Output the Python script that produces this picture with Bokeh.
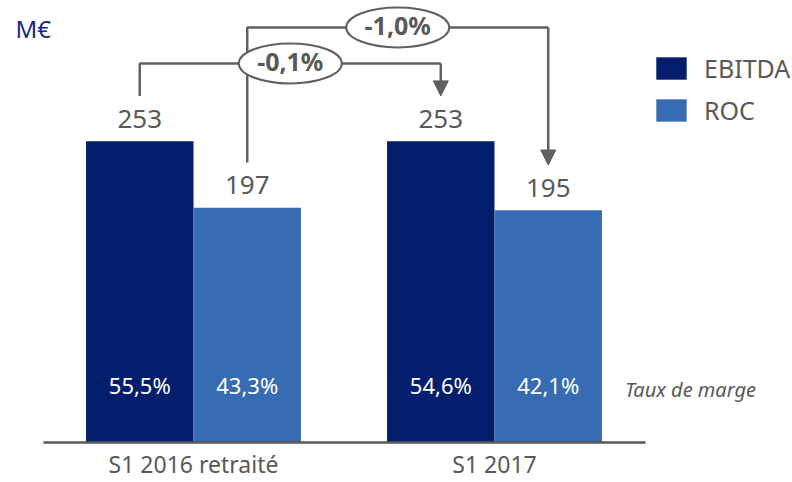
from bokeh.plotting import figure
from bokeh.models import (ColumnDataSource, Range1d, FixedTicker, Arrow, NormalHead,
                          Legend, LegendItem)
from bokeh.core.properties import value
from bokeh.embed import file_html
from bokeh.resources import INLINE

# ---------------- data ----------------
categories = ["S1 2016 retraité", "S1 2017"]
series = ["EBITDA", "ROC"]
ebitda = [253, 253]
roc = [197, 195]
ebitda_margin = ["55,5%", "54,6%"]
roc_margin = ["43,3%", "42,1%"]
change_labels = ["-0,1%", "-1,0%"]      # EBITDA change, ROC change
unit_label = "M€"
margin_caption = "Taux de marge"

# ---------------- style ----------------
C_EBITDA = "#041E6E"
C_ROC = "#376CB3"
FONT = "Noto Sans"
GREY = "#595959"
LINE = "#606060"
BAR_W = 0.357
OFF = BAR_W / 2
ARROW_GAP = 38          # data units between bar top and bracket end
LEVEL1 = max(ebitda) + 65.3
LEVEL2 = max(ebitda) + 95.5
MID = -2                # small baseline correction for "middle" text (px)

xpos = list(range(len(categories)))
xe = [x - OFF for x in xpos]
xr = [x + OFF for x in xpos]

p = figure(width=792, height=482, output_backend="svg", toolbar_location=None,
           x_range=Range1d(-0.6412, 1.9900), y_range=Range1d(0, 371.1),
           y_axis_location=None,
           min_border_left=0, min_border_right=0, min_border_top=0, min_border_bottom=0)
p.outline_line_color = None
p.grid.visible = False
p.border_fill_color = "white"
p.background_fill_color = "white"

src = ColumnDataSource(dict(
    xe=xe, xr=xr, ebitda=ebitda, roc=roc,
    ebitda_txt=[str(v) for v in ebitda], roc_txt=[str(v) for v in roc],
    em=ebitda_margin, rm=roc_margin, zero=[0] * len(categories),
))

r1 = p.vbar(x="xe", top="ebitda", width=BAR_W, fill_color=C_EBITDA, line_color=None, source=src)
r2 = p.vbar(x="xr", top="roc", width=BAR_W, fill_color=C_ROC, line_color=None, source=src)

# value labels above bars
for xcol, tcol, ycol in (("xe", "ebitda_txt", "ebitda"), ("xr", "roc_txt", "roc")):
    p.text(x=xcol, y=ycol, text=tcol, source=src, y_offset=-20.5 + MID,
           text_align="center", text_baseline="middle",
           text_font=value(FONT), text_font_size="26px", text_color=GREY)

# margin labels inside bars
for xcol, tcol in (("xe", "em"), ("xr", "rm")):
    p.text(x=xcol, y="zero", text=tcol, source=src, y_offset=-55.5 + MID,
           text_align="center", text_baseline="middle",
           text_font=value(FONT), text_font_size="22px", text_color="white")

p.text(x=[1.651], y=[0], text=[margin_caption], y_offset=-51.5 + MID,
       text_align="center", text_baseline="middle", text_font=value(FONT),
       text_font_size="20px", text_font_style="italic", text_color=GREY)

# unit label
p.text(x=[-0.5914], y=[346.0], text=[unit_label], y_offset=MID, text_align="left",
       text_baseline="middle", text_font=value(FONT), text_font_size="24px",
       text_color="#12298A")

# bracket connectors
bx = [[xe[0], xe[0], xe[1]], [xr[0], xr[0], xr[1]]]
by = [[ebitda[0] + ARROW_GAP, LEVEL1, LEVEL1], [roc[0] + ARROW_GAP, LEVEL2, LEVEL2]]
p.multi_line(xs=bx, ys=by, line_color=LINE, line_width=2.5)

arrow_src = ColumnDataSource(dict(
    x0=[xe[1], xr[1]], y0=[LEVEL1, LEVEL2],
    x1=[xe[1], xr[1]], y1=[ebitda[1] + ARROW_GAP, roc[1] + ARROW_GAP],
))
p.add_layout(Arrow(end=NormalHead(size=15, fill_color=LINE, line_color=LINE, line_width=1),
                   x_start="x0", y_start="y0", x_end="x1", y_end="y1",
                   line_color=LINE, line_width=2.5, source=arrow_src))

mid_x = [(xe[0] + xe[1]) / 2, (xr[0] + xr[1]) / 2]
mid_y = [LEVEL1, LEVEL2]
p.ellipse(x=mid_x, y=mid_y, width=103, height=40, width_units="screen",
          height_units="screen", fill_color="white", line_color=LINE, line_width=2)
p.text(x=mid_x, y=mid_y, text=change_labels, y_offset=MID, text_align="center",
       text_baseline="middle", text_font=value(FONT), text_font_size="25px",
       text_font_style="bold", text_color=GREY)

# legend
legend = Legend(items=[LegendItem(label=series[0], renderers=[r1]),
                       LegendItem(label=series[1], renderers=[r2])],
                location=(652, 315), glyph_width=38, glyph_height=28,
                label_standoff=14, spacing=8, padding=0, margin=0,
                border_line_color=None, background_fill_alpha=0,
                label_text_font=FONT, label_text_font_size="25px", label_text_color=GREY)
p.add_layout(legend)

# x axis
ax = p.xaxis[0]
ax.ticker = FixedTicker(ticks=xpos)
ax.major_label_overrides = {i: c for i, c in zip(xpos, categories)}
ax.bounds = (-0.5, 1.5)
ax.axis_line_color = GREY
ax.axis_line_width = 2.5
ax.major_tick_line_color = None
ax.minor_tick_line_color = None
ax.major_tick_out = 0
ax.major_tick_in = 0
ax.major_label_standoff = 5
ax.major_label_text_font = FONT
ax.major_label_text_font_size = "23px"
ax.major_label_text_color = GREY

open("out.html", "w").write(file_html(p, INLINE))
